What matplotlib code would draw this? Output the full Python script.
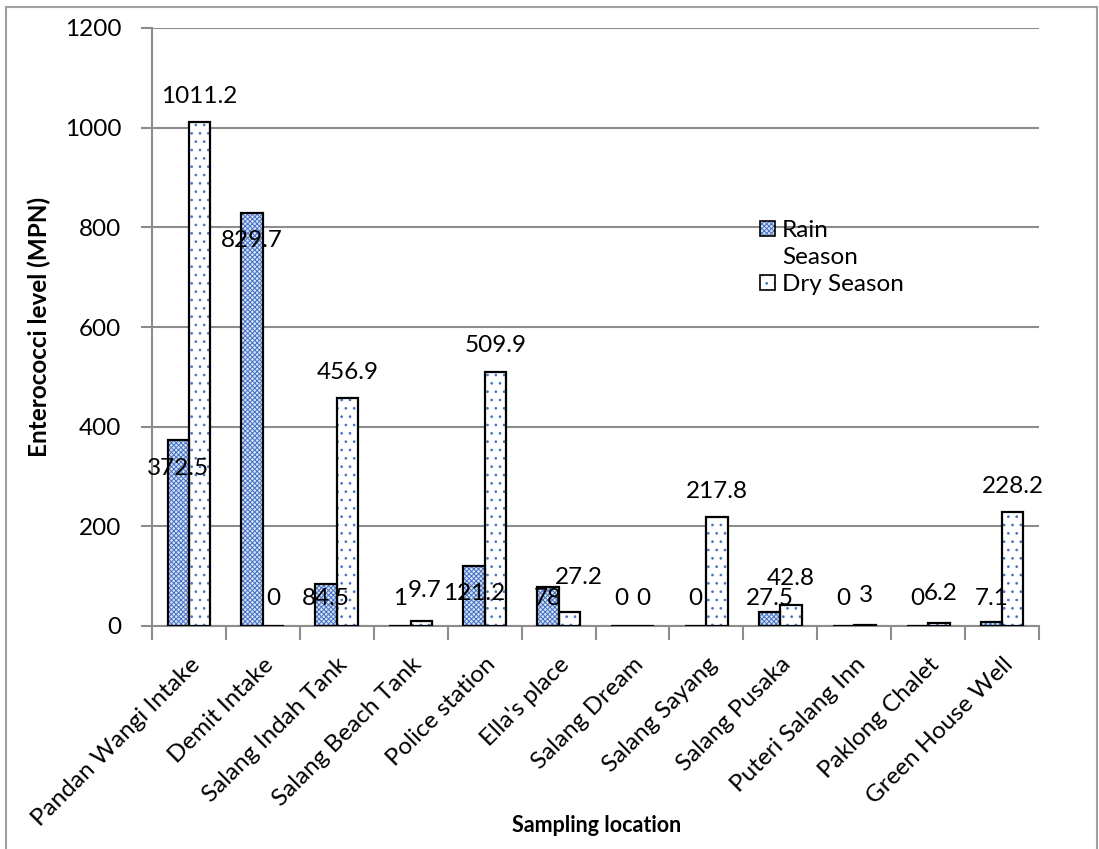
import numpy as np
import matplotlib
matplotlib.use('Agg')
import matplotlib.pyplot as plt
from matplotlib.patches import Patch, Rectangle

# ------------------------------------------------------------
# Data
# ------------------------------------------------------------
locations = [
    'Pandan Wangi Intake', 'Demit Intake', 'Salang Indah Tank',
    'Salang Beach Tank', 'Police station', "Ella's place", 'Salang Dream',
    'Salang Sayang', 'Salang Pusaka', 'Puteri Salang Inn', 'Paklong Chalet',
    'Green House Well',
]
rain_season = [372.5, 829.7, 84.5, 1, 121.2, 78, 0, 0, 27.5, 0, 0, 7.1]
dry_season = [1011.2, 0, 456.9, 9.7, 509.9, 27.2, 0, 217.8, 42.8, 3, 6.2, 228.2]
y_ticks = [0, 200, 400, 600, 800, 1000, 1200]

# ------------------------------------------------------------
# Style
# ------------------------------------------------------------
plt.rcParams['font.family'] = ['Lato', 'DejaVu Sans']
plt.rcParams['hatch.linewidth'] = 0.7
BLUE = '#4472c4'
GRID = '#8c8c8c'
RAIN_FACE = '#d9e2f5'
FS = 17.5

fig = plt.figure(figsize=(10.99, 8.49), dpi=100)
ax = fig.add_axes([152 / 1099, 1 - 626 / 849, (1039 - 152) / 1099, (626 - 28) / 849])

x = np.arange(len(locations))
w = 0.29

# hatched fill first, black outline on top
ax.bar(x - w / 2, rain_season, w, facecolor=RAIN_FACE, edgecolor=BLUE,
       hatch='xxxxxxx', linewidth=0, zorder=3)
ax.bar(x + w / 2, dry_season, w, facecolor='white', edgecolor=BLUE,
       hatch='..', linewidth=0, zorder=3)
ax.bar(x - w / 2, rain_season, w, fill=False, edgecolor='black', linewidth=1.6, zorder=4)
ax.bar(x + w / 2, dry_season, w, fill=False, edgecolor='black', linewidth=1.6, zorder=4)

# data labels (Excel-like placement)
for xi, v in zip(x, rain_season):
    ax.text(xi - w / 2, max(v - 56, 56), f'{v:g}', ha='center', va='center',
            fontsize=FS, zorder=5)
for xi, v in zip(x, dry_season):
    if v >= 40:
        y, dx = v + 52, 0
    else:
        y, dx = 1.5 * v + 56, 0.005 * v
    ax.text(xi + w / 2 + dx, y, f'{v:g}', ha='center', va='center',
            fontsize=FS, zorder=5)

# axes
ax.set_xlim(-0.5, len(locations) - 0.5)
ax.set_ylim(0, 1200)
ax.set_yticks(y_ticks)
ax.tick_params(axis='y', labelsize=FS, color=GRID, length=8, width=1.5, pad=14)
ax.yaxis.grid(True, color=GRID, linewidth=1.5, zorder=0)
ax.set_axisbelow(True)

ax.set_xticks(np.arange(len(locations) + 1) - 0.5)
ax.set_xticklabels([])
ax.set_xticks(x, minor=True)
ax.set_xticklabels(locations, minor=True, rotation=45, ha='right',
                   rotation_mode='anchor', fontsize=FS)
ax.tick_params(axis='x', which='major', color=GRID, length=10, width=1.5)
ax.tick_params(axis='x', which='minor', length=0, pad=20)

for s in ['top', 'right']:
    ax.spines[s].set_visible(False)
for s in ['left', 'bottom']:
    ax.spines[s].set_color(GRID)
    ax.spines[s].set_linewidth(1.5)

ax.set_ylabel('Enterococci level (MPN)', fontsize=17.5, fontweight='bold', labelpad=10)
fig.text(597 / 1099, 1 - 826 / 849, 'Sampling location', ha='center', va='center',
         fontsize=15.5, fontweight='bold')

# legend: "Rain Season" wraps in the reference, handle sits on the first line
h_rain = (Patch(facecolor=RAIN_FACE, edgecolor=BLUE, hatch='xxxxxxx', linewidth=0),
          Patch(fill=False, edgecolor='black', linewidth=1.2))
h_blank = Patch(facecolor='none', edgecolor='none')
h_dry = (Patch(facecolor='white', edgecolor=BLUE, hatch='..', linewidth=0),
         Patch(fill=False, edgecolor='black', linewidth=1.2))
ax.legend([h_rain, h_blank, h_dry], ['Rain', 'Season', 'Dry Season'], loc='upper left',
          bbox_to_anchor=(748 / 1099, 1 - 208 / 849), bbox_transform=fig.transFigure,
          frameon=False, fontsize=FS, handlelength=0.6, handleheight=0.6,
          handletextpad=0.3, labelspacing=0.25, borderpad=0)

# outer chart frame
fig.patches.append(Rectangle((6 / 1099, -0.1), 1091 / 1099, 1.1 - 7 / 849,
                             transform=fig.transFigure, fill=False,
                             edgecolor='#a0a0a0', linewidth=1.5))

plt.savefig('out.png', dpi=100)
plt.close()
